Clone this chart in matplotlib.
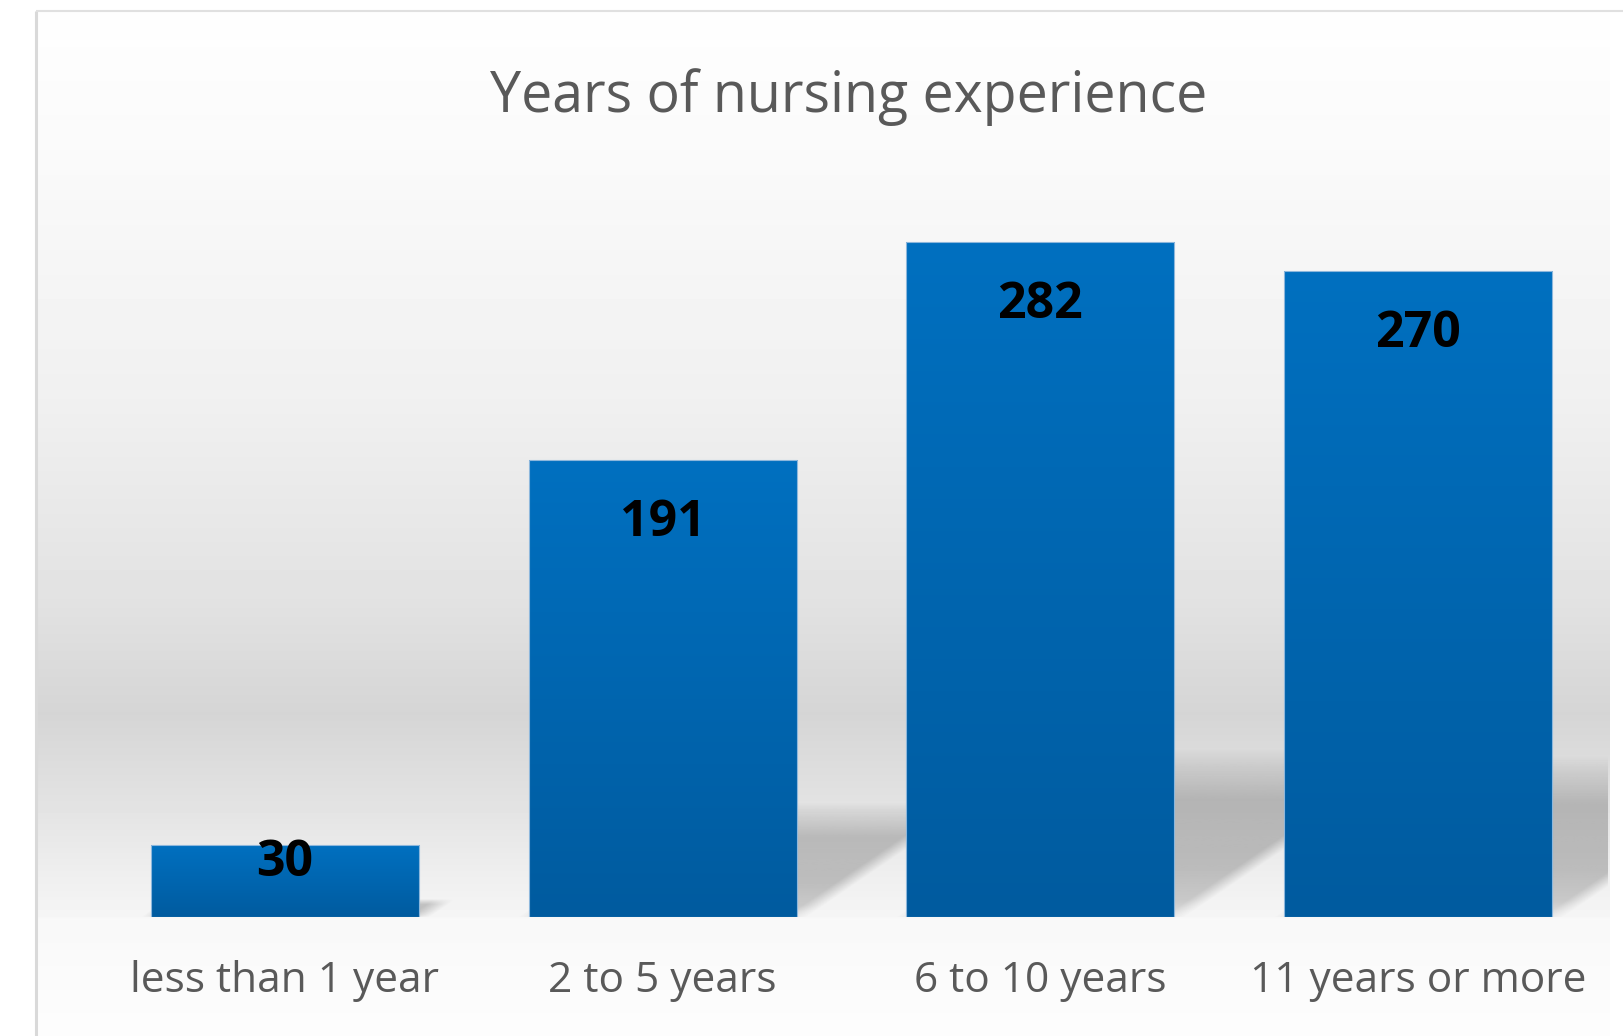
import numpy as np
import matplotlib
matplotlib.use('Agg')
import matplotlib.pyplot as plt
from matplotlib.colors import LinearSegmentedColormap
from matplotlib.transforms import Affine2D

# chart data
categories = ['less than 1 year', '2 to 5 years', '6 to 10 years', '11 years or more']
counts = [30, 191, 282, 270]
title = 'Years of nursing experience'

W, H = 1624, 1036
plt.rcParams['font.family'] = ['Open Sans', 'DejaVu Sans']

fig = plt.figure(figsize=(W / 100, H / 100), dpi=100)
fig.patch.set_facecolor('white')

# background: grey gradient of the plot area, in pixel coords
bg = fig.add_axes([0, 0, 1, 1])
bg.set_xlim(0, W)
bg.set_ylim(H, 0)
bg.axis('off')
stop_y = [12, 150, 400, 600, 713, 800, 870, 916, 918, 1036]
stop_v = [254, 250, 240, 226, 213, 226, 238, 245, 248, 253]
ys = np.arange(12, H)
vals = np.interp(ys, stop_y, stop_v) / 255
bg.imshow(np.repeat(vals[:, None], 50, axis=1), cmap='gray', vmin=0, vmax=1,
          extent=(38, 1610, H, 12), aspect='auto', interpolation='nearest')
bg.plot([36.5, 36.5], [H, 11], color='#d9d9d9', lw=2.2, solid_capstyle='butt')
bg.plot([36, W], [11, 11], color='#e0e0e0', lw=1.5, solid_capstyle='butt')
bg.set_xlim(0, W)
bg.set_ylim(H, 0)

# main axes
left, right, base, top = 96, 1607, 917, 60
ax = fig.add_axes([left / W, (H - base) / H, (right - left) / W, (base - top) / H])
ax.patch.set_visible(False)
ymax = 358
x = np.arange(len(categories))
bw = 0.71
px_x = (right - left) / 4
px_y = (base - top) / ymax

# perspective shadow: soft RGBA image, skewed onto each bar's footprint
u = np.linspace(-0.06, 1.06, 300)
v = np.linspace(0, 1, 200)
a_v = np.interp(v, [0, 0.1, 0.3, 0.7, 0.9, 1], [0.10, 0.22, 0.27, 0.26, 0.10, 0])
a_u = np.clip((u + 0.04) / 0.08, 0, 1) * np.clip((1.04 - u) / 0.08, 0, 1)
shadow = np.zeros((len(v), len(u), 4))
shadow[..., :3] = 0.2
shadow[..., 3] = a_v[:, None] * a_u[None, :]

for xi, val in zip(x, counts):
    sh = 0.25 * val * px_y
    xl = xi - bw / 2
    skew = Affine2D(np.array([[bw, sh / 0.68 / px_x, xl],
                              [0, sh / px_y, 0],
                              [0, 0, 1]]))
    ax.imshow(shadow, origin='lower', extent=(-0.06, 1.06, 0, 1), aspect='auto',
              interpolation='bilinear', transform=skew + ax.transData, zorder=2)

bars = ax.bar(x, counts, width=bw, color='#0068b3', edgecolor='#8db7dc', linewidth=0.8, zorder=3)
blue = LinearSegmentedColormap.from_list('blue', ['#005b9f', '#0070c0'])
grad = np.linspace(0, 1, 256)[:, None]
for b in bars:
    bx, by = b.get_x(), b.get_height()
    im = ax.imshow(grad, cmap=blue, origin='lower', aspect='auto', zorder=3.5,
                   extent=(bx, bx + b.get_width(), 0, by))
    im.set_clip_path(b)
    b.set_facecolor('none')
    b.set_zorder(4)

# value labels inside the bar ends
for xi, val in zip(x, counts):
    yc = max(val - 58 / px_y, 59 / px_y)
    ax.text(xi, yc - 18 / px_y, str(val), ha='center', va='baseline', fontsize=36,
            fontweight='bold', color='black', zorder=5)

ax.set_xlim(-0.5, 3.5)
ax.set_ylim(0, ymax)
ax.set_xticks(x, categories, fontsize=30.5, color='#595959')
ax.tick_params(axis='x', length=0, pad=31)
ax.set_yticks([])
for s in ax.spines.values():
    s.set_visible(False)

fig.text(849 / W, 1 - 111.7 / H, title, ha='center', va='baseline', fontsize=40, color='#595959')

fig.savefig('out.png', dpi=100)
